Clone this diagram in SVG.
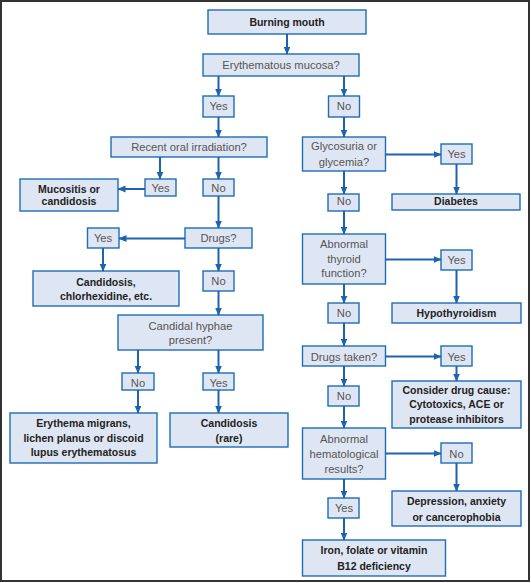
<svg xmlns="http://www.w3.org/2000/svg" width="531" height="583" viewBox="0 0 531 583">
<defs>
<marker id="ah" markerUnits="userSpaceOnUse" markerWidth="8" markerHeight="8" refX="7.5" refY="4" orient="auto">
<path d="M0,0.5 L8,4 L0,7.5 z" fill="#1e63ad"/>
</marker>
</defs>
<style>
.b{fill:#dfe6f3;stroke:#1f6db5;stroke-width:1.4}
.q{font-family:"Liberation Sans",Arial,sans-serif;font-size:11.2px;fill:#555;text-anchor:middle}
.r{font-family:"Liberation Sans",Arial,sans-serif;font-size:10.5px;font-weight:bold;fill:#222;text-anchor:middle}
.c line{stroke:#1e63ad;stroke-width:2;marker-end:url(#ah)}
</style>
<rect x="1" y="1" width="528" height="580" fill="#fff" stroke="#333" stroke-width="2"/>
<g id="n_burning"><rect class="b" x="208" y="10" width="158" height="24"/><text class="r" x="287" y="26">Burning mouth</text></g>
<g id="n_erythematous"><rect class="b" x="203" y="54" width="156" height="22"/><text class="q" x="281" y="69">Erythematous mucosa?</text></g>
<g id="n_yes1"><rect class="b" x="203" y="96" width="31" height="21"/><text class="q" x="218.5" y="110">Yes</text></g>
<g id="n_no1"><rect class="b" x="328.5" y="96" width="31" height="21"/><text class="q" x="344" y="110">No</text></g>
<g id="n_recent"><rect class="b" x="111" y="137" width="156" height="20"/><text class="q" x="189" y="151">Recent oral irradiation?</text></g>
<g id="n_glyco"><rect class="b" x="302.5" y="137" width="83" height="34"/><text class="q" x="344" y="150">Glycosuria or</text><text class="q" x="344" y="166">glycemia?</text></g>
<g id="n_yes_glyco"><rect class="b" x="441" y="144" width="31" height="20"/><text class="q" x="456.5" y="158">Yes</text></g>
<g id="n_diabetes"><rect class="b" x="392" y="194" width="128" height="16"/><text class="r" x="456" y="204.5">Diabetes</text></g>
<g id="n_yes_recent"><rect class="b" x="145" y="179" width="31" height="17"/><text class="q" x="160.5" y="192">Yes</text></g>
<g id="n_no_recent"><rect class="b" x="203" y="179" width="31" height="17"/><text class="q" x="218.5" y="192">No</text></g>
<g id="n_mucositis"><rect class="b" x="20" y="179" width="98" height="32"/><text class="r" x="69" y="193">Mucositis or</text><text class="r" x="69" y="205">candidosis</text></g>
<g id="n_no_glyco"><rect class="b" x="328" y="194" width="31" height="17"/><text class="q" x="344" y="205">No</text></g>
<g id="n_thyroid"><rect class="b" x="302.5" y="234" width="83" height="50"/><text class="q" x="344" y="247.5">Abnormal</text><text class="q" x="344" y="263">thyroid</text><text class="q" x="344" y="277">function?</text></g>
<g id="n_yes_thyroid"><rect class="b" x="441" y="250" width="31" height="20"/><text class="q" x="456.5" y="264">Yes</text></g>
<g id="n_hypothyroidism"><rect class="b" x="392" y="303" width="129" height="20"/><text class="r" x="456.5" y="317">Hypothyroidism</text></g>
<g id="n_no_thyroid"><rect class="b" x="328" y="303" width="31" height="20"/><text class="q" x="344" y="317">No</text></g>
<g id="n_drugstaken"><rect class="b" x="302.5" y="346" width="83" height="20"/><text class="q" x="344" y="360.5">Drugs taken?</text></g>
<g id="n_yes_drugstaken"><rect class="b" x="441" y="346" width="31" height="20"/><text class="q" x="456.5" y="360.5">Yes</text></g>
<g id="n_consider"><rect class="b" x="392" y="381" width="129" height="47"/><text class="r" x="456.5" y="393.5">Consider drug cause:</text><text class="r" x="456.5" y="407.5">Cytotoxics, ACE or</text><text class="r" x="456.5" y="423">protease inhibitors</text></g>
<g id="n_no_drugstaken"><rect class="b" x="328" y="386" width="31" height="20"/><text class="q" x="344" y="400">No</text></g>
<g id="n_hemat"><rect class="b" x="302.5" y="428" width="83" height="51"/><text class="q" x="344" y="443">Abnormal</text><text class="q" x="344" y="457.5">hematological</text><text class="q" x="344" y="472.5">results?</text></g>
<g id="n_no_hemat"><rect class="b" x="441" y="443" width="31" height="20"/><text class="q" x="456.5" y="457.5">No</text></g>
<g id="n_depression"><rect class="b" x="392" y="491" width="129" height="35"/><text class="r" x="456.5" y="505">Depression, anxiety</text><text class="r" x="456.5" y="520.5">or cancerophobia</text></g>
<g id="n_yes_hemat"><rect class="b" x="328" y="498" width="31" height="20"/><text class="q" x="344" y="512">Yes</text></g>
<g id="n_iron"><rect class="b" x="302.5" y="540" width="143" height="36"/><text class="r" x="374" y="554">Iron, folate or vitamin</text><text class="r" x="374" y="569.5">B12 deficiency</text></g>
<g id="n_drugs"><rect class="b" x="185" y="228" width="67" height="20"/><text class="q" x="218.5" y="242">Drugs?</text></g>
<g id="n_yes_drugs"><rect class="b" x="87.5" y="228" width="31.5" height="20"/><text class="q" x="103" y="242">Yes</text></g>
<g id="n_candidosis_chx"><rect class="b" x="33" y="271" width="146" height="35"/><text class="r" x="106" y="285.5">Candidosis,</text><text class="r" x="106" y="300">chlorhexidine, etc.</text></g>
<g id="n_no_drugs"><rect class="b" x="203" y="271" width="31" height="20"/><text class="q" x="218.5" y="285">No</text></g>
<g id="n_candidal"><rect class="b" x="118" y="315" width="145" height="35"/><text class="q" x="190.5" y="329.5">Candidal hyphae</text><text class="q" x="190.5" y="344">present?</text></g>
<g id="n_no_candidal"><rect class="b" x="122" y="373" width="32" height="17"/><text class="q" x="138" y="386.5">No</text></g>
<g id="n_yes_candidal"><rect class="b" x="203" y="373" width="31" height="17"/><text class="q" x="218.5" y="386.5">Yes</text></g>
<g id="n_erythema"><rect class="b" x="10" y="413" width="147" height="50"/><text class="r" x="83.5" y="427">Erythema migrans,</text><text class="r" x="83.5" y="442">lichen planus or discoid</text><text class="r" x="83.5" y="456">lupus erythematosus</text></g>
<g id="n_candidosis_rare"><rect class="b" x="170" y="413" width="118" height="34"/><text class="r" x="229" y="427">Candidosis</text><text class="r" x="229" y="442">(rare)</text></g>
<g id="connectors" class="c">
<line x1="287" y1="34" x2="287" y2="54"/>
<line x1="218.5" y1="76" x2="218.5" y2="96"/>
<line x1="344" y1="76" x2="344" y2="96"/>
<line x1="218.5" y1="117" x2="218.5" y2="137"/>
<line x1="344" y1="117" x2="344" y2="137"/>
<line x1="385.5" y1="154.5" x2="441" y2="154.5"/>
<line x1="456.5" y1="164" x2="456.5" y2="194"/>
<line x1="160" y1="157" x2="160" y2="179"/>
<line x1="218.5" y1="157" x2="218.5" y2="179"/>
<line x1="145" y1="189" x2="118" y2="189"/>
<line x1="344" y1="171" x2="344" y2="194"/>
<line x1="344" y1="211" x2="344" y2="234"/>
<line x1="385.5" y1="259.5" x2="441" y2="259.5"/>
<line x1="456.5" y1="270" x2="456.5" y2="303"/>
<line x1="344" y1="284" x2="344" y2="303"/>
<line x1="344" y1="323" x2="344" y2="346"/>
<line x1="385.5" y1="356.5" x2="441" y2="356.5"/>
<line x1="456.5" y1="366" x2="456.5" y2="381"/>
<line x1="344" y1="366" x2="344" y2="386"/>
<line x1="344" y1="406" x2="344" y2="428"/>
<line x1="385.5" y1="453.5" x2="441" y2="453.5"/>
<line x1="456.5" y1="463" x2="456.5" y2="491"/>
<line x1="344" y1="479" x2="344" y2="498"/>
<line x1="344" y1="518" x2="344" y2="540"/>
<line x1="218.5" y1="196" x2="218.5" y2="228"/>
<line x1="185" y1="238.5" x2="119" y2="238.5"/>
<line x1="103" y1="248" x2="103" y2="271"/>
<line x1="218.5" y1="248" x2="218.5" y2="271"/>
<line x1="218.5" y1="291" x2="218.5" y2="315"/>
<line x1="138" y1="350" x2="138" y2="373"/>
<line x1="218.5" y1="350" x2="218.5" y2="373"/>
<line x1="138" y1="390" x2="138" y2="413"/>
<line x1="218.5" y1="390" x2="218.5" y2="413"/>
</g>
</svg>
